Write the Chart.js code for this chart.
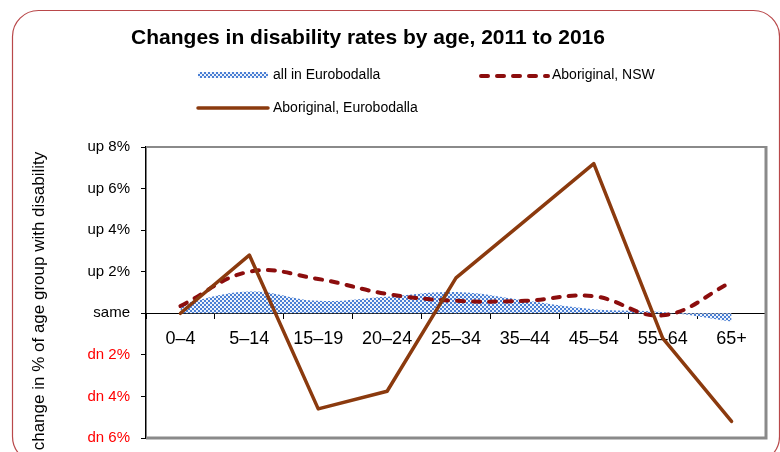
<!DOCTYPE html>
<html><head><meta charset="utf-8">
<script src="https://cdn.jsdelivr.net/npm/chart.js@4/dist/chart.umd.min.js"></script>
<style>html,body{margin:0;padding:0;background:#fff;}canvas{display:block;}</style>
</head><body>
<canvas id="c" width="780" height="452"></canvas>
<script>
// ---- data ----
const categories = ['0–4','5–14','15–19','20–24','25–34','35–44','45–54','55–64','65+'];
const allEurobodalla = [0.45, 1.05, 0.6, 0.8, 1.02, 0.62, 0.2, 0.06, -0.4];
const aboriginalNSW = [0.35, 2.0, 1.65, 0.93, 0.6, 0.6, 0.82, -0.1, 1.5];
const aboriginalEurobodalla = [0.0, 2.8, -4.6, -3.75, 1.7, 4.45, 7.2, -1.2, -5.2];
const yTickValues = [-6, -4, -2, 0, 2, 4, 6, 8];
const yTickLabels = ['dn 6%', 'dn 4%', 'dn 2%', 'same', 'up 2%', 'up 4%', 'up 6%', 'up 8%'];
const seriesLabels = ['all in Eurobodalla', 'Aboriginal, NSW', 'Aboriginal, Eurobodalla'];
const chartTitle = 'Changes in disability rates by age, 2011 to 2016';
const yAxisTitle = 'change in % of age group with disability';

const FONT = '"Liberation Sans", Arial, Helvetica, sans-serif';
Chart.defaults.font.family = FONT;
Chart.defaults.color = '#000';

const canvas = document.getElementById('c');
const ctx = canvas.getContext('2d');

function makePattern() {
  const p = document.createElement('canvas');
  p.width = 4; p.height = 4;
  const g = p.getContext('2d');
  g.fillStyle = '#eef3fb'; g.fillRect(0, 0, 4, 4);
  g.fillStyle = '#4a7fd4'; g.fillRect(0, 0, 2, 2); g.fillRect(2, 2, 2, 2);
  return ctx.createPattern(p, 'repeat');
}
const areaPattern = makePattern();

const decor = {
  id: 'decor',
  beforeDraw(chart) {
    const c = chart.ctx;
    c.save();
    c.fillStyle = '#fff';
    c.fillRect(0, 0, chart.width, chart.height);
    // outer rounded frame
    c.strokeStyle = '#b9484a';
    c.lineWidth = 1.2;
    c.beginPath();
    c.roundRect(12.5, 10.5, 767, 452, 26);
    c.stroke();
    c.restore();
  },
  afterDraw(chart) {
    const c = chart.ctx;
    const a = chart.chartArea;
    const ds = chart.data.datasets;
    c.save();
    // plot area frame (top / right / bottom, grey)
    c.strokeStyle = '#8a8a8a';
    c.lineWidth = 2;
    c.beginPath();
    c.moveTo(a.left, a.top); c.lineTo(a.right, a.top);
    c.stroke();
    c.lineWidth = 3;
    c.beginPath();
    c.moveTo(a.right, a.top - 1); c.lineTo(a.right, a.bottom);
    c.lineTo(a.left, a.bottom);
    c.stroke();

    // title
    c.fillStyle = '#000';
    c.font = 'bold 21px ' + FONT;
    c.textAlign = 'center';
    c.textBaseline = 'middle';
    c.fillText(chartTitle, 368, 38);

    // y axis title
    c.save();
    c.translate(39, 301);
    c.rotate(-Math.PI / 2);
    c.font = '17px ' + FONT;
    c.fillText(yAxisTitle, 0, 0);
    c.restore();

    // legend
    c.font = '14px ' + FONT;
    c.textAlign = 'left';
    c.textBaseline = 'middle';
    // all in Eurobodalla (area)
    c.fillStyle = ds[2].backgroundColor;
    c.fillRect(198, 72, 70, 6);
    c.fillStyle = '#000';
    c.fillText(ds[2].label, 273, 75);
    // Aboriginal, NSW (dashed)
    c.strokeStyle = ds[1].borderColor;
    c.lineWidth = ds[1].borderWidth;
    c.lineCap = 'round';
    c.setLineDash(ds[1].borderDash);
    c.beginPath(); c.moveTo(481, 76); c.lineTo(548, 76); c.stroke();
    c.setLineDash([]);
    c.fillText(ds[1].label, 552, 75);
    // Aboriginal, Eurobodalla (solid)
    c.strokeStyle = ds[0].borderColor;
    c.lineWidth = ds[0].borderWidth;
    c.beginPath(); c.moveTo(198, 108); c.lineTo(268, 108); c.stroke();
    c.fillText(ds[0].label, 273, 108);
    c.restore();
  }
};

new Chart(canvas, {
  type: 'line',
  data: {
    labels: categories,
    datasets: [
      {
        label: seriesLabels[2],
        data: aboriginalEurobodalla,
        borderColor: '#8b3a0e',
        borderWidth: 3.5,
        tension: 0,
        pointRadius: 0,
        fill: false,
        borderJoinStyle: 'round',
        borderCapStyle: 'round',
        order: 0
      },
      {
        label: seriesLabels[1],
        data: aboriginalNSW,
        borderColor: '#8c0d0d',
        borderWidth: 4,
        borderDash: [7, 9],
        borderCapStyle: 'round',
        tension: 0.4,
        pointRadius: 0,
        fill: false,
        order: 1
      },
      {
        label: seriesLabels[0],
        data: allEurobodalla,
        backgroundColor: areaPattern,
        borderColor: 'rgba(0,0,0,0)',
        borderWidth: 0,
        tension: 0.4,
        pointRadius: 0,
        fill: 'origin',
        order: 2
      }
    ]
  },
  options: {
    responsive: false,
    animation: false,
    events: [],
    layout: { padding: { left: 0, top: 147, right: 14, bottom: 14 } },
    plugins: { legend: { display: false }, title: { display: false }, tooltip: { enabled: false } },
    scales: {
      x: {
        type: 'category',
        position: { y: 0 },
        offset: true,
        grid: { drawOnChartArea: false, offset: true, tickLength: 5, color: '#000', lineWidth: 1 },
        border: { color: '#000', width: 1 },
        ticks: { font: { size: 18 }, color: '#000', padding: 10, maxRotation: 0, autoSkip: false }
      },
      y: {
        position: 'left',
        min: -6,
        max: 8,
        afterFit(scale) { scale.width = 146; scale.paddingTop = 0; scale.paddingBottom = 0; },
        afterBuildTicks(scale) { scale.ticks = yTickValues.map(v => ({ value: v })); },
        grid: { drawOnChartArea: false, tickLength: 5, color: '#000', lineWidth: 1 },
        border: { color: '#000', width: 1.5 },
        ticks: {
          font: { size: 15 },
          padding: 11,
          color: c => (c.tick && c.tick.value < 0 ? '#ff0000' : '#000'),
          callback: v => yTickLabels[yTickValues.indexOf(v)]
        }
      }
    }
  },
  plugins: [decor]
});
</script>
</body></html>
